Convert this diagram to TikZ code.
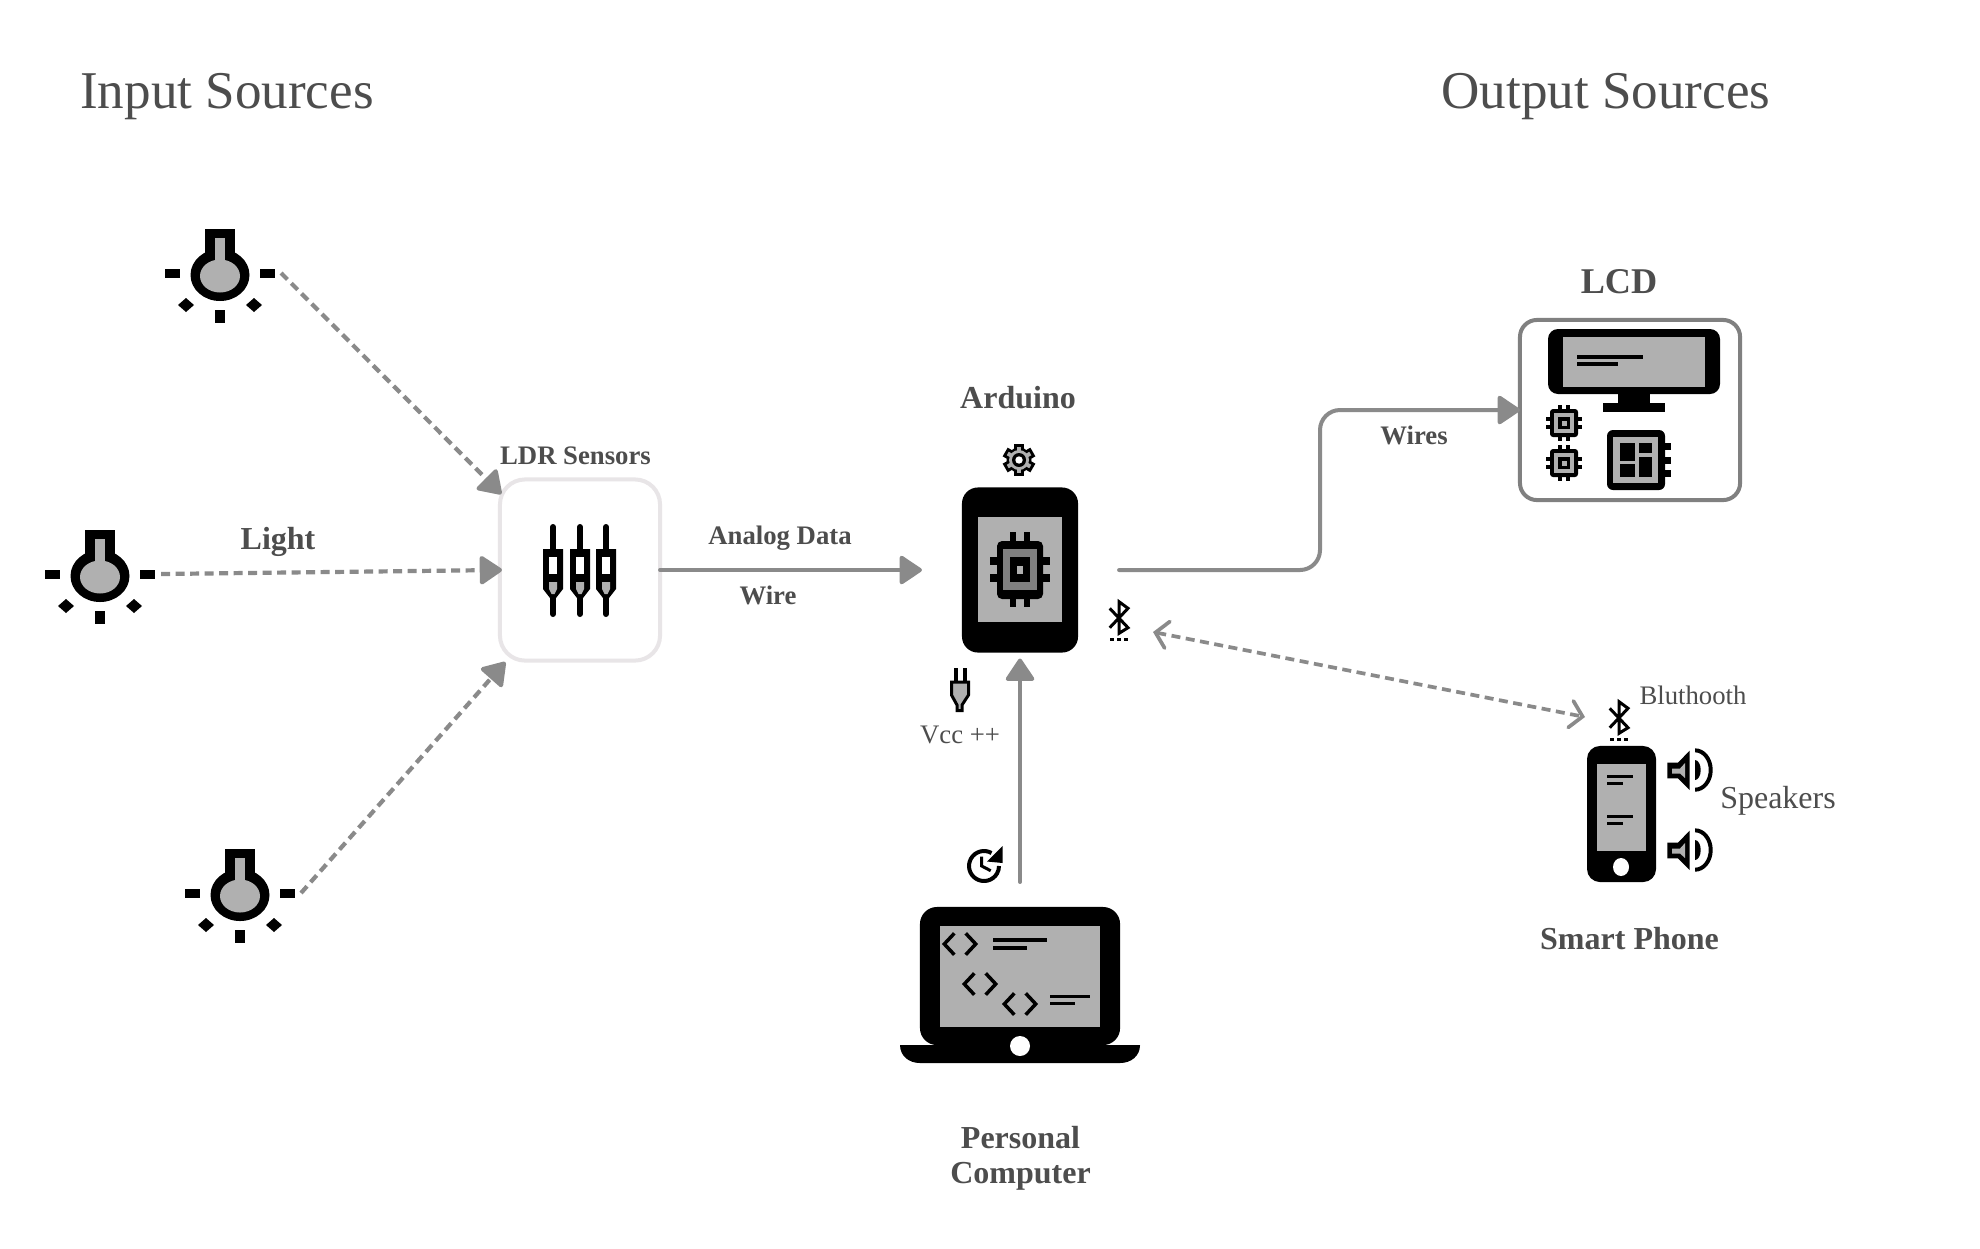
\documentclass[tikz,border=0pt]{standalone}
\usepackage{fontspec}
\setmainfont{Liberation Serif}
\usepackage{tikz}
\usetikzlibrary{arrows.meta}

\definecolor{txtgrey}{HTML}{4D4D4D}
\definecolor{linegrey}{HTML}{8A8A8A}
\definecolor{boxgrey}{HTML}{808080}
\definecolor{palegrey}{HTML}{E8E5E7}
\definecolor{iconfill}{HTML}{B0B0B0}

\tikzset{
  titletext/.style={text=txtgrey, inner sep=0pt, font=\fontsize{15.1}{18}\selectfont},
  labeltext/.style={text=txtgrey, inner sep=0pt, font=\fontsize{7.6}{9}\selectfont},
  largetext/.style={text=txtgrey, inner sep=0pt, font=\fontsize{9.1}{10}\selectfont},
  smallbold/.style={text=txtgrey, inner sep=0pt, font=\fontsize{7.6}{9}\selectfont\bfseries},
  namebold/.style={text=txtgrey, inner sep=0pt, align=center, font=\fontsize{9.1}{10.1}\selectfont\bfseries},
  iconspot/.style={inner sep=0pt, outer sep=0pt, minimum width=#1, minimum height=0.3cm},
  blackbody/.style={fill=black, inner sep=0pt, outer sep=0pt},
  solidlink/.style={draw=linegrey, line width=0.04cm, line cap=round, -{Triangle[length=0.24cm,width=0.31cm,round]}},
  dashlink/.style={draw=linegrey, line width=0.042cm, dash pattern=on 0.09cm off 0.055cm, -{Triangle[length=0.24cm,width=0.31cm,round]}},
  openlink/.style={draw=linegrey, line width=0.037cm, dash pattern=on 0.09cm off 0.055cm,
    {Straight Barb[length=0.12cm,width=0.27cm,line cap=round]}-{Straight Barb[length=0.12cm,width=0.27cm,line cap=round]}},
  bulbicon/.pic={
    \fill (-15,-44) rectangle (15,-15);
    \fill (0,2) ellipse [x radius=29.5, y radius=26];
    \fill[iconfill] (-5,-35) rectangle (5,-5);
    \fill[iconfill] (0,3) ellipse [x radius=20, y radius=16.5];
    \fill (-55,-4.5) rectangle (-40,4.5);
    \fill (40,-4.5) rectangle (55,4.5);
    \fill (-5,37) rectangle (5,50);
    \fill (-42,32) -- (-34,25) -- (-26,32) -- (-34,39) -- cycle;
    \fill (26,32) -- (34,25) -- (42,32) -- (34,39) -- cycle;
  },
  pinicon/.pic={
    \draw[line width=0.06cm, line cap=round] (0,-47) -- (0,40);
    \fill (-10,-25) -- (10,-25) -- (10,15) -- (3,24) -- (-3,24) -- (-10,15) -- cycle;
    \fill[white] (-4,-17) rectangle (4,0);
    \fill[iconfill] (-4,8) -- (4,8) -- (4,15) -- (1.5,20) -- (-1.5,20) -- (-4,15) -- cycle;
  },
  chipsmall/.pic={
    \fill[rounded corners=0.03cm] (-14,-14) rectangle (14,14);
    \foreach \p in {-4,4} {
      \fill (\p-1.7,-18) rectangle (\p+1.7,18);
      \fill (-18,\p-1.7) rectangle (18,\p+1.7);
    }
    \fill[iconfill] (-10,-10) rectangle (10,10);
    \fill (-6,-6) rectangle (6,6);
    \fill[iconfill] (-2.5,-2.5) rectangle (2.5,2.5);
  },
  bticon/.pic={
    \draw[line width=0.03cm, line join=miter] (-9.3,-8.7) -- (9,10.7) -- (0,16.3) -- (0,-15.3) -- (9,-8.7) -- (-9.3,10.7);
    \foreach \d in {-7,0,7}
      \fill (\d-1.7,20.7) rectangle (\d+1.7,24);
  },
  speakericon/.pic={
    \fill (-22.7,-7.3) -- (-12,-7.3) -- (-0.5,-19.3) -- (-0.5,20) -- (-12,8.3) -- (-22.7,8.3) -- cycle;
    \fill[iconfill] (-18,-1.5) -- (-10,-1.5) -- (-5,-7) -- (-5,8) -- (-10,3.5) -- (-18,3.5) -- cycle;
    \fill (5,-21.7) arc [start angle=-90, end angle=90, x radius=17.7, y radius=21.7]
      -- (5,17.7) arc [start angle=90, end angle=-90, x radius=13.7, y radius=17.7] -- cycle;
    \fill (5,-10) arc [start angle=-90, end angle=90, x radius=5.7, y radius=10] -- cycle;
  },
  codetag/.pic={
    \draw[line width=0.035cm] (-5.7,-10.7) -- (-15.7,0) -- (-5.7,10.7);
    \draw[line width=0.035cm] (5.7,-10.7) -- (15.7,0) -- (5.7,10.7);
  },
}

\begin{document}
\begin{tikzpicture}[x=0.01cm, y=-0.01cm]

\fill[white] (0,0) rectangle (1980,1248);

\node[titletext] (inputtitle) at (227,97) {Input Sources};
\node[titletext] (outputtitle) at (1606,97) {Output Sources};

% light sources
\node[iconspot=1.22cm] (bulbtop) at (220,273) {};
\node[iconspot=1.22cm] (bulbmid) at (100,574) {};
\node[iconspot=1.22cm] (bulblow) at (240,893) {};
\pic at (bulbtop) {bulbicon};
\pic at (bulbmid) {bulbicon};
\pic at (bulblow) {bulbicon};
\node[namebold] (lightlabel) at (278,542) {Light};

% sensor box
\node[draw=palegrey, line width=0.04cm, rounded corners=0.25cm, inner sep=0pt, outer sep=0pt,
  minimum width=1.6cm, minimum height=1.81cm] (ldrbox) at (580,570) {};
\node[smallbold] (ldrlabel) at (575.5,456) {LDR Sensors};
\foreach \x in {553,580,606}
  \pic at (\x,574) {pinicon};

\draw[dashlink, shorten >=-0.02cm] (bulbtop.east) -- (ldrbox.136);
\draw[dashlink, shorten >=-0.02cm] (bulbmid.east) -- (ldrbox.west);
\draw[dashlink, shorten >=0.02cm] (bulblow.east) -- (ldrbox.231);

% arduino board
\node[blackbody, rounded corners=0.16cm, minimum width=1.16cm, minimum height=1.65cm] (arduino) at (1020,570) {};
\fill[iconfill] (978,517) rectangle (1062,622);
\foreach \p in {1013,1027} {
  \fill (\p-3.3,532) rectangle (\p+3.3,607);
}
\foreach \p in {561,578} {
  \fill (990,\p-3.7) rectangle (1050,\p+3.7);
}
\fill[rounded corners=0.05cm] (997,541) rectangle (1043,599);
\fill[boxgrey] (1003,549) rectangle (1037,590);
\fill (1010,557) rectangle (1030,582);
\fill[iconfill] (1017,566) rectangle (1023,574);
\node[namebold] (arduinolabel) at (1018,398) {Arduino};

% gear above the board
\foreach \a in {0,60,...,300} {
  \fill[rotate around={\a:(1019,460)}] (1014,444) rectangle (1024,460);
}
\fill (1019,460) circle [radius=12.5];
\fill[iconfill] (1019,460) circle [radius=10];
\foreach \a in {0,60,...,300}
  \fill[iconfill, rotate around={\a:(1019,460)}] (1017,447) rectangle (1021,460);
\fill (1019,460) circle [radius=7];
\fill[white] (1019,460) circle [radius=3.7];

% plug
\fill (954,668) rectangle (957.5,682);
\fill (963,668) rectangle (967,682);
\draw[fill=iconfill, line width=0.03cm] (951.5,682) -- (968.5,682) -- (968.5,695) -- (962,705) -- (962,710.5) -- (957,710.5) -- (957,705) -- (951.5,695) -- cycle;
\node[labeltext] (vcclabel) at (960,735) {Vcc ++};

\draw[solidlink, shorten >=0.4cm] (ldrbox.east) -- (arduino.west);
\node[smallbold] (analoglabel) at (780,538.5) {Analog Data};
\node[smallbold] (wirelabel) at (768,595) {Wire};

% lcd with its driver
\node[draw=boxgrey, line width=0.04cm, rounded corners=0.17cm, inner sep=0pt, outer sep=0pt,
  minimum width=2.2cm, minimum height=1.8cm] (lcdbox) at (1630,410) {};
\node[namebold, font=\fontsize{10.3}{12}\selectfont\bfseries] (lcdlabel) at (1619,282) {LCD};
\fill[rounded corners=0.1cm] (1548,329) rectangle (1720,394);
\fill[iconfill] (1563,337) rectangle (1705,387);
\fill (1577,355) rectangle (1643,358.5);
\fill (1577,362) rectangle (1618,365.5);
\fill (1618,390) rectangle (1650,403);
\fill (1603,403) rectangle (1665,412);
\pic at (1564,423) {chipsmall};
\pic at (1564,463) {chipsmall};
\fill[rounded corners=0.06cm] (1607,430) rectangle (1665,490);
\fill[iconfill] (1613,437) rectangle (1658,483);
\fill (1619.5,443) rectangle (1635,461);
\fill (1639,443) rectangle (1652,453);
\fill (1619.5,464) rectangle (1635,477);
\fill (1639,457) rectangle (1652,477);
\foreach \p in {443,457,470}
  \fill (1660,\p) rectangle (1671,\p+7);

\coordinate (lcdbend) at (1320,410);
\draw[solidlink, rounded corners=0.2cm, shorten <=0.41cm] (arduino.east) -| (lcdbend) -- (lcdbox.west);
\node[smallbold] (wireslabel) at (1414,435) {Wires};

% personal computer
\node[blackbody, rounded corners=0.17cm, minimum width=2cm, minimum height=1.38cm] (laptop) at (1020,976) {};
\fill (1120,1045) -- (1140,1045) .. controls (1140,1056) and (1131,1063) .. (1120,1063)
  -- (920,1063) .. controls (909,1063) and (900,1056) .. (900,1045) -- cycle;
\fill[iconfill] (940,926) rectangle (1100,1027);
\fill[white] (1020,1046) circle [radius=10];
\pic at (960,944) {codetag};
\pic at (980,984) {codetag};
\pic at (1020,1004) {codetag};
\fill (993.3,938.3) rectangle (1046.7,941.7);
\fill (993.3,946.3) rectangle (1026.7,949.7);
\fill (1050,995) rectangle (1090,998.3);
\fill (1050,1001.7) rectangle (1075,1005);
\node[namebold] (pclabel) at (1020.5,1158.5) {Personal\\Computer};

\draw[solidlink, shorten <=0.25cm, shorten >=0.06cm] (laptop.north) -- (arduino.south);

% upload clock
\draw[line width=0.04cm] (991.5,853) arc [start angle=-60, end angle=-360, radius=15];
\fill (1002.7,846) -- (1002.7,863) -- (987,861.5) -- cycle;
\draw[line width=0.03cm] (981.7,856.7) -- (981.7,866) -- (990.7,870.7);

% smart phone
\node[blackbody, rounded corners=0.13cm, minimum width=0.69cm, minimum height=1.36cm] (phone) at (1621.5,814) {};
\fill[iconfill] (1597,764) rectangle (1646,851);
\fill (1607,775) rectangle (1633,778.3);
\fill (1607,782) rectangle (1623,785.3);
\fill (1607,815) rectangle (1633,818.3);
\fill (1607,822) rectangle (1623,825.3);
\fill[white] (1621,867) ellipse [x radius=8, y radius=9];
\pic at (1690,770) {speakericon};
\pic at (1690,850) {speakericon};
\node[largetext] (speakerlabel) at (1778,801) {Speakers};
\node[labeltext] (btlabel) at (1693,695) {Bluthooth};
\node[namebold] (phonelabel) at (1629.5,938.5) {Smart Phone};

% bluetooth link
\node[iconspot=0.68cm] (btboard) at (1119,617) {};
\node[iconspot=0.68cm] (btphone) at (1619,717) {};
\pic at (btboard) {bticon};
\pic at (btphone) {bticon};
\draw[openlink] (btboard.south east) -- (btphone.west);

\end{tikzpicture}
\end{document}
